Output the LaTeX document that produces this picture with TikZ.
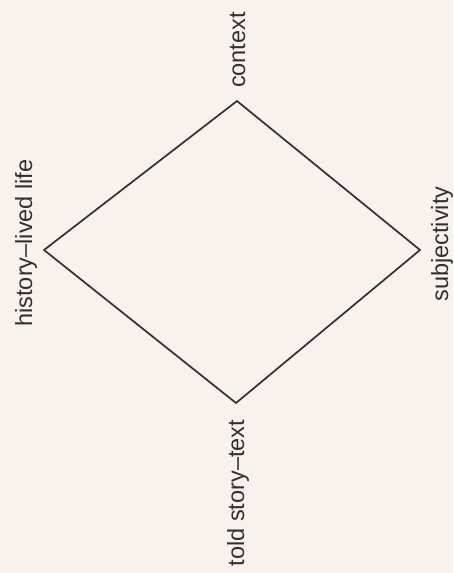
\documentclass[tikz,border=0pt]{standalone}
\usepackage{fontspec}
\setmainfont{Liberation Sans}
\definecolor{paper}{RGB}{247,242,238}
\definecolor{ink}{RGB}{50,47,47}
\begin{document}
\begin{tikzpicture}[x=1pt,y=-1pt,
  lbl/.style={rotate=90,anchor=base,inner sep=0pt,text=ink,font=\fontsize{23.5}{28}\selectfont},
  edge/.style={draw=ink,line width=1.7pt,line join=miter}]
  \fill[paper] (0,0) rectangle (453,573);
  \useasboundingbox (0,0) rectangle (453,573);
  \coordinate (t) at (237,101);
  \coordinate (l) at (44,250);
  \coordinate (r) at (420,250);
  \coordinate (b) at (236,403);
  \draw[edge] (t) -- (r) -- (b) -- (l) -- cycle;
  \node[lbl] (ctx) at (245,50) {context};
  \node[lbl] (hist) at (32,243) {history–lived life};
  \node[lbl] (subj) at (448,244) {subjectivity};
  \node[lbl] (told) at (244,493) {told story–text};
\end{tikzpicture}
\end{document}
